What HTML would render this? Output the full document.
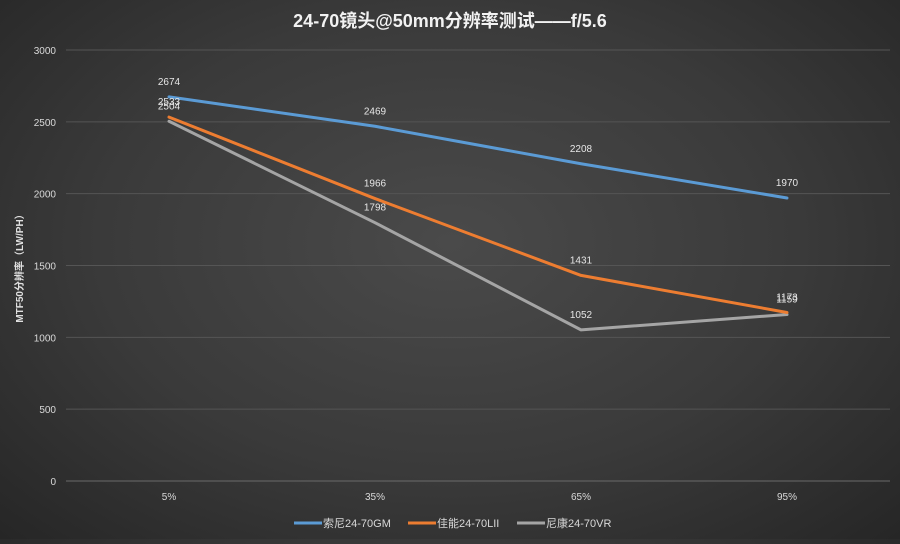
<!DOCTYPE html>
<html><head><meta charset="utf-8"><style>
html,body{margin:0;padding:0;}
body{width:900px;height:539px;overflow:hidden;background:radial-gradient(ellipse at 50% 45%,#4a4a4a 0%,#3a3a3a 55%,#262626 100%);font-family:"Liberation Sans","Noto Sans CJK SC",sans-serif;}
svg text{font-family:"Liberation Sans","Noto Sans CJK SC",sans-serif;}
</style></head><body>
<svg id="chart" width="900" height="539" xmlns="http://www.w3.org/2000/svg">
<text x="450" y="27" text-anchor="middle" font-size="18" font-weight="bold" fill="#f2f2f2">24-70镜头@50mm分辨率测试——f/5.6</text>
<text transform="translate(23,266) rotate(-90)" text-anchor="middle" font-size="10" font-weight="bold" fill="#e0e0e0">MTF50分辨率（LW/PH）</text>
<g id="grid"></g><g id="series"></g><g id="labels"></g>
<g>
<g><line x1="294" y1="523" x2="322" y2="523" stroke="#5b9bd5" stroke-width="3"/><text x="323" y="527" font-size="11" fill="#d9d9d9">索尼24-70GM</text></g>
<g><line x1="408" y1="523" x2="436" y2="523" stroke="#ed7d31" stroke-width="3"/><text x="437" y="527" font-size="11" fill="#d9d9d9">佳能24-70LII</text></g>
<g><line x1="517" y1="523" x2="545" y2="523" stroke="#a5a5a5" stroke-width="3"/><text x="546" y="527" font-size="11" fill="#d9d9d9">尼康24-70VR</text></g>
</g>
</svg>
<script>
const categories=["5%","35%","65%","95%"];
const sony=[2674,2469,2208,1970];
const canon=[2533,1966,1431,1173];
const nikon=[2504,1798,1052,1159];
const yTicks=[0,500,1000,1500,2000,2500,3000];
const NS="http://www.w3.org/2000/svg";
const X0=66,X1=890,Y0=481,Y1=50,YMAX=3000;
const x=i=>X0+(X1-X0)/categories.length*(i+0.5);
const y=v=>Y0-(Y0-Y1)*v/YMAX;
function mk(tag,attrs,parent){const e=document.createElementNS(NS,tag);for(const k in attrs)e.setAttribute(k,attrs[k]);parent.appendChild(e);return e;}
const grid=document.getElementById('grid');
yTicks.forEach(t=>{
  const l=mk('line',{x1:X0,x2:X1,y1:y(t),y2:y(t),stroke:t===0?'#6a6a6a':'#555',"stroke-width":1},grid);
  
  
  const tx=mk('text',{x:56,y:y(t)+4,"text-anchor":"end","font-size":10,fill:"#d9d9d9"},grid);
  tx.textContent=t;
  
  
});
categories.forEach((c,i)=>{
  const tx=mk('text',{x:x(i),y:500,"text-anchor":"middle","font-size":10,fill:"#d9d9d9"},grid);
  tx.textContent=c;
  
  
});
const sg=document.getElementById('series'),lg=document.getElementById('labels');
[[nikon,'#a5a5a5','nikon'],[canon,'#ed7d31','canon'],[sony,'#5b9bd5','sony']].forEach(([d,col,n])=>{
  const p=mk('polyline',{points:d.map((v,i)=>x(i)+','+y(v)).join(' '),fill:'none',stroke:col,"stroke-width":3,"stroke-linejoin":"round","stroke-linecap":"round"},sg);
  
  
  d.forEach((v,i)=>{
    const t=mk('text',{x:x(i),y:y(v)-12,"text-anchor":"middle","font-size":10,fill:"#e6e6e6"},lg);
    t.textContent=v;
    
    
  });
});
</script>
</body></html>
